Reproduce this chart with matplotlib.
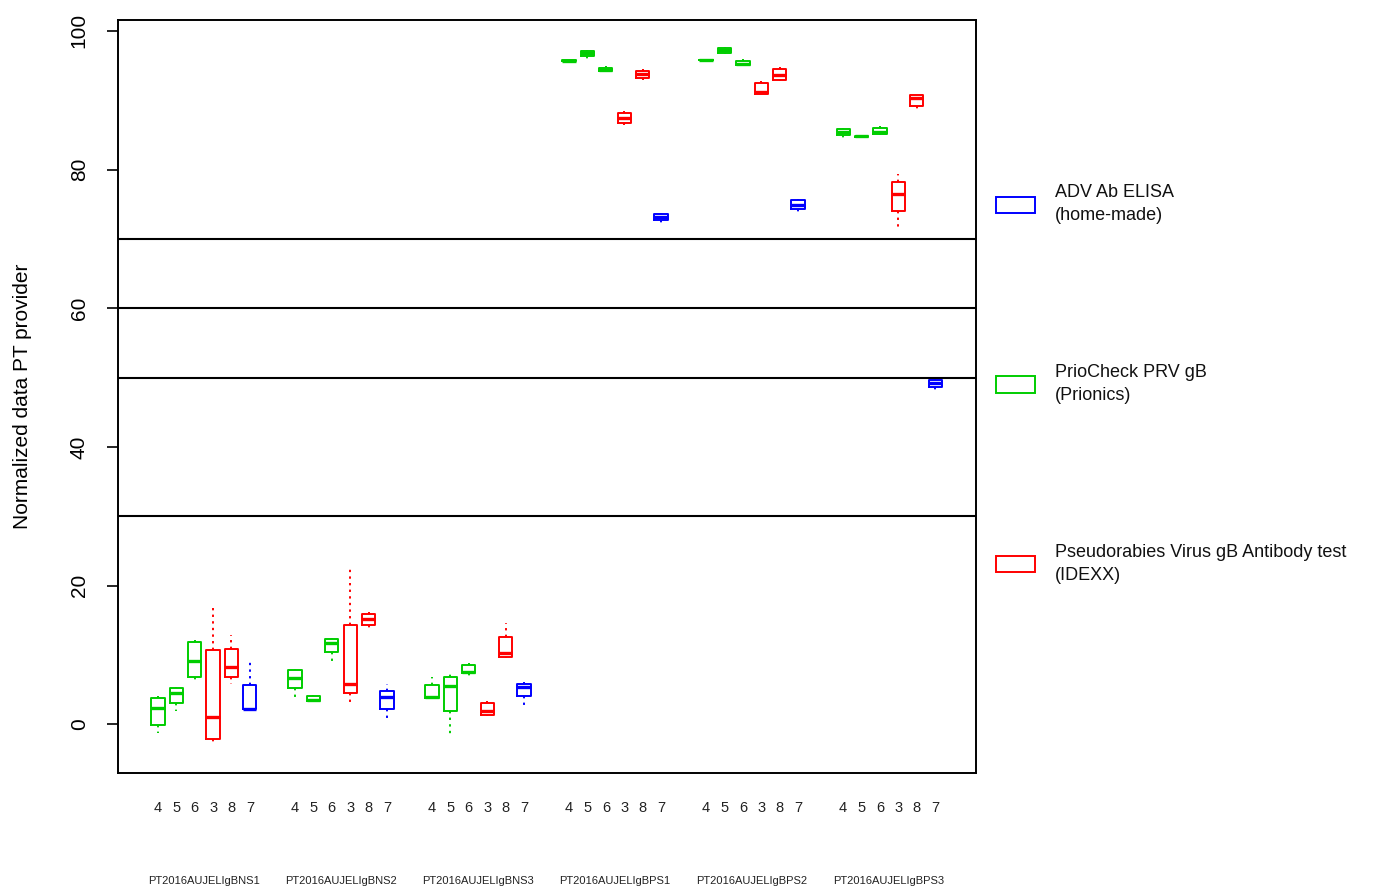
import matplotlib
matplotlib.use("Agg")
import matplotlib.pyplot as plt
from matplotlib.patches import Patch

plt.rcParams['font.family'] = ['Liberation Sans', 'DejaVu Sans']

# samples (groups along the x axis) and labs inside each group
samples = ['PT2016AUJELIgBNS1', 'PT2016AUJELIgBNS2', 'PT2016AUJELIgBNS3',
           'PT2016AUJELIgBPS1', 'PT2016AUJELIgBPS2', 'PT2016AUJELIgBPS3']
labs = ['4', '5', '6', '3', '8', '7']
lab_kit = ['green', 'green', 'green', 'red', 'red', 'blue']

# box statistics, one row per sample, one column per lab
whislo = [[-1.27, 1.99, 6.30, -2.81, 5.83, 2.19],
          [3.53, 3.42, 9.18, 2.95, 13.50, 0.40],
          [3.86, -1.76, 6.79, 1.22, 9.53, 2.81],
          [95.65, 95.86, 94.03, 86.36, 92.92, 72.35],
          [95.75, 96.66, 94.96, 90.86, 92.73, 73.78],
          [84.49, 84.74, 84.92, 71.40, 88.66, 48.23]]
q1 = [[-0.07, 3.05, 6.88, -2.13, 6.88, 2.19],
      [5.21, 3.42, 10.43, 4.58, 14.36, 2.19],
      [3.86, 1.94, 7.37, 1.37, 9.76, 4.10],
      [95.65, 96.43, 94.17, 86.65, 93.21, 72.69],
      [95.75, 96.86, 95.04, 90.91, 92.88, 74.27],
      [85.01, 84.74, 85.06, 74.03, 89.14, 48.71]]
med = [[2.42, 4.49, 9.14, 1.04, 8.27, 2.25],
       [6.73, 3.60, 11.77, 5.87, 15.22, 3.91],
       [4.00, 5.58, 7.60, 1.94, 10.33, 5.44],
       [95.71, 96.76, 94.39, 87.37, 93.70, 73.21],
       [95.80, 97.19, 95.28, 91.15, 93.60, 74.89],
       [85.40, 84.78, 85.47, 76.47, 90.33, 49.18]]
q3 = [[3.86, 5.25, 11.83, 10.72, 10.82, 5.68],
      [7.80, 4.10, 12.26, 14.32, 15.90, 4.86],
      [5.68, 6.79, 8.52, 3.05, 12.63, 5.83],
      [95.78, 97.15, 94.65, 88.17, 94.27, 73.64],
      [95.85, 97.53, 95.71, 92.49, 94.50, 75.57],
      [85.83, 84.82, 86.01, 78.24, 90.72, 49.67]]
whishi = [[4.10, 5.44, 12.16, 17.05, 12.88, 9.28],
          [7.99, 4.30, 12.45, 22.52, 16.19, 5.83],
          [6.79, 7.74, 8.81, 3.34, 14.65, 6.12],
          [95.78, 97.30, 94.99, 88.42, 94.56, 73.78],
          [95.85, 97.60, 96.00, 92.73, 94.75, 75.71],
          [86.01, 84.82, 86.21, 79.40, 90.72, 50.14]]

ref_lines = [70, 60, 50, 30]

kits = ['ADV Ab ELISA\n(home-made)', 'PrioCheck PRV gB\n(Prionics)',
        'Pseudorabies Virus gB Antibody test\n(IDEXX)']
kit_colors = {'blue': '#0000FF', 'green': '#00CD00', 'red': '#FF0000'}
legend_colors = ['blue', 'green', 'red']

fig = plt.figure(figsize=(13.96, 8.86), dpi=100)
ax = fig.add_axes([0.0845, 0.1275, 0.6145, 0.8495])

group_step = 7.45
for g in range(len(samples)):
    for k in range(len(labs)):
        pos = g * group_step + k
        col = kit_colors[lab_kit[k]]
        st = [{'whislo': whislo[g][k], 'q1': q1[g][k], 'med': med[g][k],
               'q3': q3[g][k], 'whishi': whishi[g][k], 'fliers': []}]
        ax.bxp(st, positions=[pos], widths=0.72, showcaps=False,
               boxprops=dict(color=col, linewidth=1.4),
               medianprops=dict(color=col, linewidth=2.4, solid_capstyle='butt'),
               whiskerprops=dict(color=col, linewidth=1.4, linestyle=(0, (1.2, 2.2))),
               manage_ticks=False)

for y in ref_lines:
    ax.axhline(y, color='black', linewidth=1.5)

ax.set_xlim(-2.17, 44.46)
ax.set_ylim(-7.0, 101.5)

ax.set_yticks([0, 20, 40, 60, 80, 100])
ax.set_yticklabels(['0', '20', '40', '60', '80', '100'], rotation=90, va='center', fontsize=15)
ax.tick_params(axis='y', length=8, width=1.2, pad=13)
ax.set_ylabel('Normalized data PT provider', fontsize=15, labelpad=27)

xt = [g * group_step + k for g in range(len(samples)) for k in range(len(labs))]
ax.set_xticks(xt)
ax.set_xticklabels(labs * len(samples), fontsize=10.5, color='#222222')
ax.tick_params(axis='x', length=0, pad=20)

for g, s in enumerate(samples):
    ax.text(g * group_step + 2.5, -0.143, s, transform=ax.get_xaxis_transform(),
            ha='center', va='center', fontsize=8, color='#222222')

for sp in ax.spines.values():
    sp.set_linewidth(1.4)

handles = [Patch(facecolor='white', edgecolor=kit_colors[c], linewidth=1.4) for c in legend_colors]
leg = fig.legend(handles, kits, loc='upper left', bbox_to_anchor=(0.708, 0.8),
                 frameon=False, fontsize=13, handlelength=2.2, handleheight=1.0,
                 handletextpad=1.1, labelspacing=7.75, borderaxespad=0)
for t in leg.get_texts():
    t.set_linespacing(1.45)
    t.set_color('#111111')

fig.savefig('out.png', dpi=100)
